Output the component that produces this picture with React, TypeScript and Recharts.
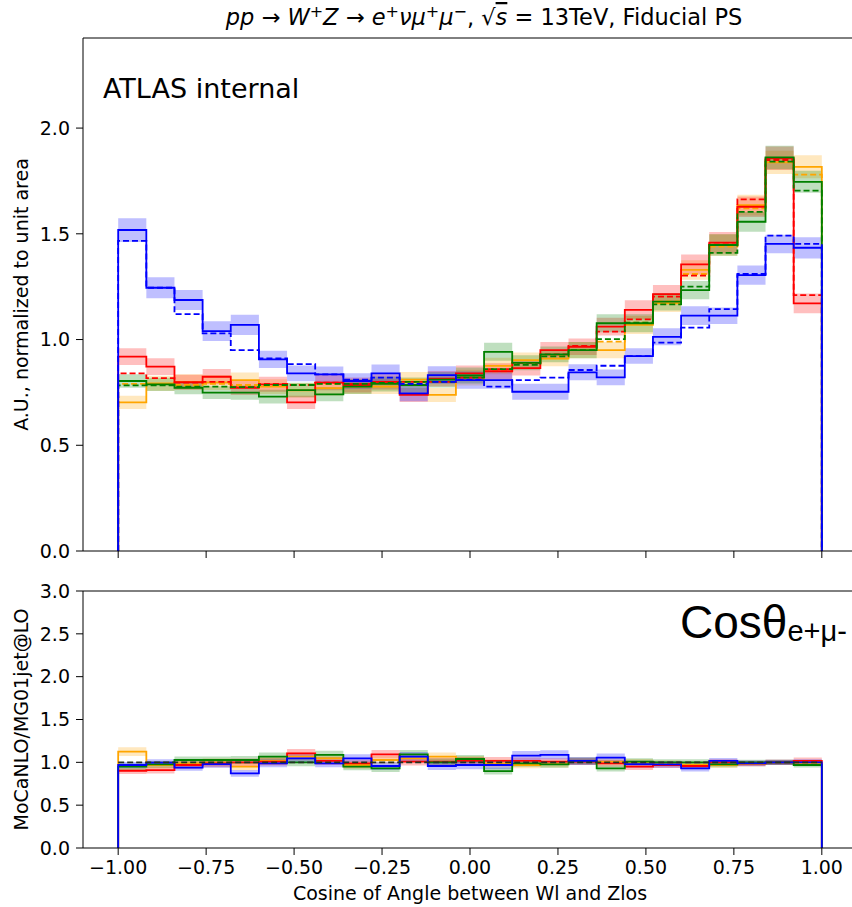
import React from 'react'
import { ComposedChart, Line, Area, XAxis, YAxis, ReferenceLine } from 'recharts'

// bin edges of cos(theta), 25 bins
const EDGES = [
  -1, -0.92, -0.84, -0.76, -0.68, -0.6, -0.52, -0.44, -0.36, -0.28, -0.2, -0.12, -0.04,
  0.04, 0.12, 0.2, 0.28, 0.36, 0.44, 0.52, 0.6, 0.68, 0.76, 0.84, 0.92, 1,
]
const X_TICKS = [-1, -0.75, -0.5, -0.25, 0, 0.25, 0.5, 0.75, 1]
const TOP_TICKS = [0, 0.5, 1, 1.5, 2]
const RATIO_TICKS = [0, 0.5, 1, 1.5, 2, 2.5, 3]

// normalised distributions (solid = MoCaNLO, dashed = MG01jet@LO)
const BLUE = [1.518, 1.245, 1.187, 1.04, 1.069, 0.906, 0.84, 0.835, 0.804, 0.84, 0.745, 0.832, 0.808, 0.808, 0.753, 0.753, 0.845, 0.821, 0.922, 1.013, 1.113, 1.113, 1.305, 1.452, 1.434]
const BLUE_DASH = [1.467, 1.245, 1.12, 1.029, 0.95, 0.911, 0.884, 0.835, 0.81, 0.82, 0.79, 0.8, 0.81, 0.777, 0.808, 0.82, 0.856, 0.876, 0.922, 0.985, 1.056, 1.144, 1.31, 1.491, 1.452]
const RED = [0.919, 0.872, 0.798, 0.824, 0.772, 0.788, 0.703, 0.796, 0.785, 0.8, 0.738, 0.815, 0.84, 0.85, 0.865, 0.95, 0.966, 1.061, 1.14, 1.215, 1.355, 1.458, 1.628, 1.857, 1.171]
const RED_DASH = [0.84, 0.818, 0.796, 0.8, 0.775, 0.79, 0.785, 0.796, 0.79, 0.8, 0.8, 0.8, 0.82, 0.86, 0.89, 0.93, 0.97, 1.037, 1.095, 1.203, 1.302, 1.45, 1.663, 1.849, 1.21]
const ORANGE = [0.703, 0.793, 0.8, 0.797, 0.808, 0.777, 0.76, 0.77, 0.777, 0.777, 0.81, 0.738, 0.82, 0.875, 0.903, 0.91, 0.95, 0.95, 1.069, 1.171, 1.329, 1.447, 1.636, 1.838, 1.817]
const ORANGE_DASH = [0.79, 0.79, 0.785, 0.79, 0.785, 0.785, 0.785, 0.79, 0.79, 0.79, 0.8, 0.8, 0.81, 0.85, 0.89, 0.92, 0.95, 0.99, 1.08, 1.18, 1.31, 1.44, 1.62, 1.84, 1.78]
const GREEN = [0.804, 0.788, 0.772, 0.749, 0.749, 0.73, 0.761, 0.741, 0.777, 0.79, 0.785, 0.81, 0.83, 0.942, 0.89, 0.93, 0.95, 1.077, 1.077, 1.179, 1.234, 1.447, 1.557, 1.861, 1.746]
const GREEN_DASH = [0.783, 0.783, 0.777, 0.777, 0.775, 0.785, 0.785, 0.79, 0.79, 0.795, 0.8, 0.8, 0.82, 0.86, 0.88, 0.92, 0.95, 1.002, 1.08, 1.166, 1.25, 1.41, 1.604, 1.841, 1.704]

// relative uncertainty per bin (band half height / value)
const BLUE_ERR = [0.037, 0.04, 0.04, 0.045, 0.045, 0.045, 0.045, 0.045, 0.045, 0.05, 0.05, 0.05, 0.05, 0.05, 0.05, 0.05, 0.045, 0.045, 0.04, 0.04, 0.04, 0.035, 0.035, 0.03, 0.035]
const RED_ERR = [0.043, 0.045, 0.045, 0.045, 0.045, 0.045, 0.045, 0.045, 0.045, 0.045, 0.045, 0.045, 0.045, 0.045, 0.04, 0.04, 0.04, 0.04, 0.04, 0.035, 0.035, 0.035, 0.03, 0.03, 0.04]
const ORANGE_ERR = [0.045, 0.045, 0.045, 0.045, 0.045, 0.045, 0.045, 0.045, 0.045, 0.045, 0.045, 0.045, 0.045, 0.045, 0.04, 0.04, 0.04, 0.04, 0.04, 0.035, 0.035, 0.035, 0.03, 0.03, 0.03]
const GREEN_ERR = [0.04, 0.04, 0.04, 0.04, 0.045, 0.045, 0.045, 0.045, 0.045, 0.045, 0.045, 0.045, 0.045, 0.045, 0.04, 0.04, 0.04, 0.04, 0.04, 0.035, 0.035, 0.035, 0.03, 0.03, 0.03]

// ratio MoCaNLO / MG01jet@LO
const BLUE_RATIO = [0.969, 0.996, 0.938, 0.98, 0.871, 0.988, 1.047, 0.988, 1.047, 0.957, 1.066, 0.957, 0.969, 0.969, 1.078, 1.086, 1.016, 1.055, 0.98, 0.977, 0.93, 1.016, 0.988, 1.0, 1.0]
const RED_RATIO = [0.902, 0.91, 0.969, 0.988, 1.0, 1.008, 1.105, 1.016, 0.988, 1.094, 1.008, 1.008, 1.016, 1.016, 1.016, 1.008, 1.008, 0.988, 0.949, 0.969, 0.957, 1.0, 0.988, 1.0, 1.016]
const ORANGE_RATIO = [1.125, 0.969, 0.988, 1.0, 0.949, 1.016, 1.066, 1.047, 0.969, 1.027, 1.047, 1.066, 1.027, 0.988, 0.969, 0.98, 1.016, 1.008, 1.0, 0.988, 0.969, 0.969, 0.98, 1.0, 0.988]
const GREEN_RATIO = [0.949, 0.977, 1.027, 1.027, 1.027, 1.066, 1.0, 1.086, 0.949, 0.93, 1.094, 1.0, 1.039, 0.898, 0.988, 0.977, 1.016, 0.93, 1.008, 1.0, 1.0, 0.977, 1.0, 1.0, 0.969]

const TOP_MAX = 2.426
const FONT = 'DejaVu Sans'

type Row = Record<string, number | number[] | null>
type Band = { key: string; vals: number[]; rel: number[] }

// step rows: drop to 0 at both ends, stepAfter curve needs the last value repeated at x=1
function stepRows(lines: Record<string, number[]>, bands: Band[]): Row[] {
  const rows: Row[] = []
  const edge = (x: number): Row => {
    const r: Row = { x }
    Object.keys(lines).forEach((k) => (r[k] = 0))
    bands.forEach((b) => (r[b.key] = null))
    return r
  }
  rows.push(edge(EDGES[0]))
  EDGES.forEach((x, i) => {
    const j = Math.min(i, EDGES.length - 2)
    const r: Row = { x }
    Object.keys(lines).forEach((k) => (r[k] = lines[k][j]))
    bands.forEach((b) => {
      const v = b.vals[j]
      const e = v * b.rel[j]
      r[b.key] = [v - e, v + e]
    })
    rows.push(r)
  })
  rows.push(edge(EDGES[EDGES.length - 1]))
  return rows
}

const topData = stepRows(
  { blue: BLUE, blueD: BLUE_DASH, red: RED, redD: RED_DASH, orange: ORANGE, orangeD: ORANGE_DASH, green: GREEN, greenD: GREEN_DASH },
  [
    { key: 'blueB', vals: BLUE, rel: BLUE_ERR },
    { key: 'redB', vals: RED, rel: RED_ERR },
    { key: 'orangeB', vals: ORANGE, rel: ORANGE_ERR },
    { key: 'greenB', vals: GREEN, rel: GREEN_ERR },
  ]
)

const ratioData = stepRows(
  { blue: BLUE_RATIO, red: RED_RATIO, orange: ORANGE_RATIO, green: GREEN_RATIO },
  [
    { key: 'blueB', vals: BLUE_RATIO, rel: BLUE_ERR },
    { key: 'redB', vals: RED_RATIO, rel: RED_ERR },
    { key: 'orangeB', vals: ORANGE_RATIO, rel: ORANGE_ERR },
    { key: 'greenB', vals: GREEN_RATIO, rel: GREEN_ERR },
  ]
)

const COLORS: Record<string, string> = { blue: '#0000ff', red: '#ff0000', orange: '#ffa500', green: '#008000' }
const ORDER = ['orange', 'red', 'green', 'blue']

const tickStyle = { fontSize: 19, fill: '#000', fontFamily: FONT }
const fmtX = (v: number) => v.toFixed(2).replace('-', '\u2212')
const fmtY = (v: number) => v.toFixed(1)

function bands() {
  return ORDER.map((c) => (
    <Area
      key={c + 'B'}
      dataKey={c + 'B'}
      type="stepAfter"
      stroke="none"
      fill={COLORS[c]}
      fillOpacity={0.25}
      isAnimationActive={false}
      activeDot={false}
    />
  ))
}

export default function App() {
  return (
    <div style={{ position: 'absolute', left: 0, top: 0, width: 852, height: 907, overflow: 'hidden', background: '#fff' }}>
      {/* main panel */}
      <div style={{ position: 'absolute', left: 0, top: 0 }}>
        <ComposedChart width={870} height={561} data={topData} margin={{ top: 38, right: 13, left: 0, bottom: 0 }}>
          <XAxis
            dataKey="x"
            type="number"
            domain={[-1.1, 1.1]}
            ticks={X_TICKS}
            interval={0}
            allowDataOverflow
            height={10}
            tickSize={7}
            tickFormatter={() => ''}
            stroke="#000"
          />
          <YAxis
            type="number"
            domain={[0, TOP_MAX]}
            ticks={TOP_TICKS}
            interval={0}
            allowDataOverflow
            width={83}
            tickSize={7}
            tickMargin={6}
            tickFormatter={fmtY}
            tick={tickStyle}
            stroke="#000"
          />
          <ReferenceLine y={TOP_MAX} stroke="#000" strokeWidth={1} ifOverflow="visible" />
          {bands()}
          {ORDER.map((c) => [
            <Line key={c} dataKey={c} type="stepAfter" stroke={COLORS[c]} strokeWidth={1.8} dot={false} activeDot={false} isAnimationActive={false} />,
            <Line key={c + 'D'} dataKey={c + 'D'} type="stepAfter" stroke={COLORS[c]} strokeWidth={1.8} strokeDasharray="6 3" dot={false} activeDot={false} isAnimationActive={false} />,
          ])}
        </ComposedChart>
      </div>

      {/* ratio panel */}
      <div style={{ position: 'absolute', left: 0, top: 560 }}>
        <ComposedChart width={870} height={318} data={ratioData} margin={{ top: 31, right: 13, left: 0, bottom: 0 }}>
          <XAxis
            dataKey="x"
            type="number"
            domain={[-1.1, 1.1]}
            ticks={X_TICKS}
            interval={0}
            allowDataOverflow
            height={30}
            tickSize={7}
            tickMargin={6}
            tickFormatter={fmtX}
            tick={tickStyle}
            stroke="#000"
          />
          <YAxis
            type="number"
            domain={[0, 3]}
            ticks={RATIO_TICKS}
            interval={0}
            allowDataOverflow
            width={83}
            tickSize={7}
            tickMargin={6}
            tickFormatter={fmtY}
            tick={tickStyle}
            stroke="#000"
          />
          <ReferenceLine y={3} stroke="#000" strokeWidth={1} ifOverflow="visible" />
          {bands()}
          {ORDER.map((c) => (
            <Line key={c} dataKey={c} type="stepAfter" stroke={COLORS[c]} strokeWidth={1.8} dot={false} activeDot={false} isAnimationActive={false} />
          ))}
          <ReferenceLine
            segment={[{ x: -1, y: 1 }, { x: 1, y: 1 }]}
            stroke="#223322"
            strokeWidth={1.8}
            strokeDasharray="6 3"
          />
        </ComposedChart>
      </div>

      {/* titles and labels */}
      <svg width={852} height={907} style={{ position: 'absolute', left: 0, top: 0, pointerEvents: 'none' }}>
        <text x={484} y={25} textAnchor="middle" fontFamily={FONT} fontSize={22.5} fill="#000">
          <tspan fontStyle="italic">pp</tspan>
          <tspan> {'\u2192'} </tspan>
          <tspan fontStyle="italic">W</tspan>
          <tspan dy={-8} fontSize={16}>+</tspan>
          <tspan dy={8} fontStyle="italic">Z</tspan>
          <tspan> {'\u2192'} </tspan>
          <tspan fontStyle="italic">e</tspan>
          <tspan dy={-8} fontSize={16}>+</tspan>
          <tspan dy={8} fontStyle="italic">{'\u03bd\u03bc'}</tspan>
          <tspan dy={-8} fontSize={16}>+</tspan>
          <tspan dy={8} fontStyle="italic">{'\u03bc'}</tspan>
          <tspan dy={-8} fontSize={16}>{'\u2212'}</tspan>
          <tspan dy={8}>, {'\u221a'}</tspan>
          <tspan fontStyle="italic" style={{ textDecoration: 'overline' }}>s</tspan>
          <tspan> = 13TeV, Fiducial PS</tspan>
        </text>
        <text x={103} y={98} fontFamily={FONT} fontSize={27} fill="#000">ATLAS internal</text>
        <text x={28} y={294.5} transform="rotate(-90 28 294.5)" textAnchor="middle" fontFamily={FONT} fontSize={19} fill="#000">
          A.U., normalized to unit area
        </text>
        <text x={28} y={719.5} transform="rotate(-90 28 719.5)" textAnchor="middle" fontFamily={FONT} fontSize={19} fill="#000">
          MoCaNLO/MG01jet@LO
        </text>
        <text x={470} y={900} textAnchor="middle" fontFamily={FONT} fontSize={19} fill="#000">
          Cosine of Angle between Wl and Zlos
        </text>
        <text x={680} y={638} fontFamily="Liberation Sans" fontSize={46} fill="#000">
          Cos{'\u03b8'}
          <tspan dy={3} fontSize={29}>e+{'\u03bc'}-</tspan>
        </text>
      </svg>
    </div>
  )
}
